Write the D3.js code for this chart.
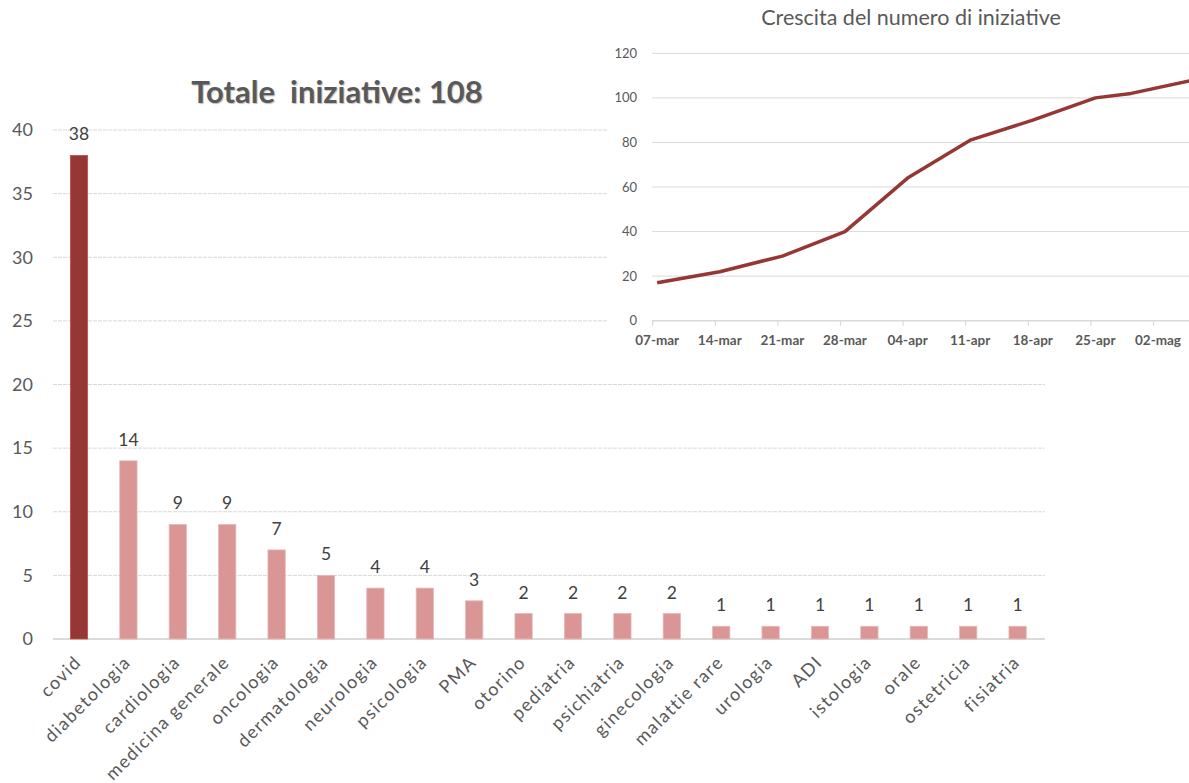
<!DOCTYPE html>
<html>
<head>
<meta charset="utf-8">
<script src="https://cdn.jsdelivr.net/npm/d3@7"></script>
<style>
  html, body { margin: 0; padding: 0; background: #fff; }
  svg { display: block; overflow: hidden; }
  text { font-family: Lato, "Open Sans", sans-serif; }
</style>
</head>
<body>
<svg id="chart" width="1189" height="783"></svg>
<script>
// Initiatives per specialty
const categories = ["covid", "diabetologia", "cardiologia", "medicina generale", "oncologia",
  "dermatologia", "neurologia", "psicologia", "PMA", "otorino", "pediatria", "psichiatria",
  "ginecologia", "malattie rare", "urologia", "ADI", "istologia", "orale", "ostetricia", "fisiatria"];
const counts = [38, 14, 9, 9, 7, 5, 4, 4, 3, 2, 2, 2, 2, 1, 1, 1, 1, 1, 1, 1];
const countTicks = [0, 5, 10, 15, 20, 25, 30, 35, 40];

// Cumulative number of initiatives over time
const growthDates = ["2020-03-07", "2020-03-14", "2020-03-21", "2020-03-28", "2020-04-04",
  "2020-04-11", "2020-04-18", "2020-04-25", "2020-04-29", "2020-05-06"];
const growthValues = [17, 22, 29, 40, 64, 81, 90, 100, 102, 108];
const weekTicks = ["2020-03-07", "2020-03-14", "2020-03-21", "2020-03-28", "2020-04-04",
  "2020-04-11", "2020-04-18", "2020-04-25", "2020-05-02"];
const weekLabels = ["07-mar", "14-mar", "21-mar", "28-mar", "04-apr", "11-apr", "18-apr", "25-apr", "02-mag"];
const growthTicks = [0, 20, 40, 60, 80, 100, 120];

const svg = d3.select("#chart");
const gridColor = "#d9d9d9";
const textColor = "#595959";

// ---------- Bar chart ----------
const x = d3.scaleBand().domain(categories).range([54.3, 1042.3])
  .paddingInner(0.65).paddingOuter(0.325);
const y = d3.scaleLinear().domain([0, 40]).range([639, 130]);

const main = svg.append("g");

main.append("g").selectAll("line").data(countTicks).join("line")
  .attr("x1", 53).attr("x2", 1045)
  .attr("y1", d => y(d)).attr("y2", d => y(d))
  .attr("stroke", d => d === 0 ? "#cfcfcf" : gridColor)
  .attr("stroke-width", d => d === 0 ? 1.5 : 1)
  .attr("stroke-dasharray", d => d === 0 ? null : "4,1");

main.append("g").selectAll("text").data(countTicks).join("text")
  .attr("x", 33).attr("y", d => y(d)).attr("dy", "0.35em")
  .attr("text-anchor", "end").attr("font-size", 18).attr("fill", textColor)
  .text(d => d);

main.append("g").selectAll("rect").data(categories).join("rect")
  .attr("x", d => x(d)).attr("width", x.bandwidth())
  .attr("y", (d, i) => y(counts[i])).attr("height", (d, i) => y(0) - y(counts[i]))
  .attr("fill", (d, i) => i === 0 ? "#953735" : "#d99694")
  .attr("stroke", (d, i) => i === 0 ? "#c0504d" : "#e6b9b8")
  .attr("stroke-width", 0.8);

main.append("g").selectAll("text").data(categories).join("text")
  .attr("x", d => x(d) + x.bandwidth() / 2)
  .attr("y", (d, i) => y(counts[i]) - 15)
  .attr("text-anchor", "middle").attr("font-size", 17.5).attr("fill", "#404040")
  .text((d, i) => counts[i]);

main.append("g").selectAll("text").data(categories).join("text")
  .attr("transform", d => `translate(${x(d) + x.bandwidth() / 2 - 1},${y(0) + 20}) rotate(-45)`)
  .attr("text-anchor", "end").attr("dy", "0.35em")
  .attr("font-size", 18).attr("letter-spacing", 1.4).attr("fill", textColor)
  .text(d => d);

main.append("text")
  .attr("x", 337).attr("y", 103)
  .attr("text-anchor", "middle").attr("font-size", 31).attr("font-weight", "bold")
  .attr("fill", textColor)
  .style("white-space", "pre")
  .style("text-shadow", "1px 1px 1px rgba(0,0,0,0.25)")
  .text("Totale  iniziative: 108");

// ---------- Growth inset ----------
const inset = svg.append("g");
inset.append("rect").attr("x", 608).attr("y", 0).attr("width", 581).attr("height", 362)
  .attr("fill", "#fff");

const parse = d3.utcParse("%Y-%m-%d");
const xt = d3.scaleUtc()
  .domain([parse("2020-03-07"), parse("2020-05-11")])
  .range([652.7, 652.7 + 65 * 8.943]);
const yt = d3.scaleLinear().domain([0, 120]).range([320.7, 53.3]);
const halfDay = 12 * 3600 * 1000;

inset.append("g").selectAll("line").data(growthTicks.filter(d => d > 0)).join("line")
  .attr("x1", 652).attr("x2", 1189)
  .attr("y1", d => yt(d)).attr("y2", d => yt(d))
  .attr("stroke", gridColor).attr("stroke-width", 1);

inset.append("line")
  .attr("x1", 652).attr("x2", 1189).attr("y1", yt(0)).attr("y2", yt(0))
  .attr("stroke", gridColor).attr("stroke-width", 1.5);

inset.append("g").selectAll("line").data(weekTicks).join("line")
  .attr("x1", d => xt(parse(d))).attr("x2", d => xt(parse(d)))
  .attr("y1", yt(0)).attr("y2", yt(0) + 5)
  .attr("stroke", gridColor).attr("stroke-width", 1.2);

inset.append("g").selectAll("text").data(growthTicks).join("text")
  .attr("x", 637).attr("y", d => yt(d)).attr("dy", "0.35em")
  .attr("text-anchor", "end").attr("font-size", 13).attr("fill", textColor)
  .text(d => d);

inset.append("g").selectAll("text").data(weekTicks).join("text")
  .attr("x", d => xt(new Date(parse(d).getTime() + halfDay)))
  .attr("y", 340).attr("dy", "0.35em")
  .attr("text-anchor", "middle").attr("font-size", 13.5).attr("font-weight", "bold")
  .attr("fill", textColor)
  .text((d, i) => weekLabels[i]);

const line = d3.line()
  .x(d => xt(new Date(parse(d.date).getTime() + halfDay)))
  .y(d => yt(d.value));

inset.append("path")
  .datum(growthDates.map((d, i) => ({ date: d, value: growthValues[i] })))
  .attr("d", line)
  .attr("fill", "none").attr("stroke", "#953735").attr("stroke-width", 3.5)
  .attr("stroke-linejoin", "round");

inset.append("text")
  .attr("x", 911).attr("y", 25)
  .attr("text-anchor", "middle").attr("font-size", 21.5).attr("fill", textColor)
  .text("Crescita del numero di iniziative");
</script>
</body>
</html>
